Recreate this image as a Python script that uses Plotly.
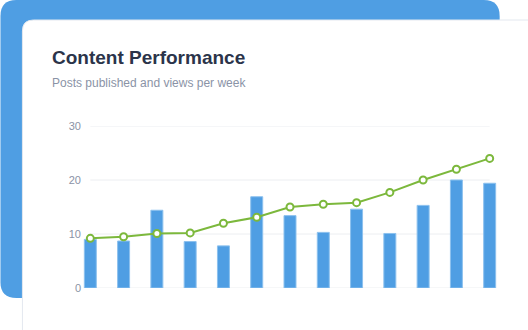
import plotly.graph_objects as go

weeks = ["W1", "W2", "W3", "W4", "W5", "W6", "W7", "W8", "W9", "W10", "W11", "W12", "W13"]
posts = [9.0, 8.7, 14.4, 8.6, 7.8, 16.9, 13.4, 10.3, 14.6, 10.1, 15.3, 20.0, 19.4]
views = [9.2, 9.5, 10.1, 10.2, 12.0, 13.1, 15.0, 15.5, 15.8, 17.7, 20.0, 22.0, 24.0]
y_ticks = [0, 10, 20, 30]

W, H = 528, 330
PAD = 0.25
UNIT = 400 / 12
L = 90 - PAD * UNIT
R = W - (490 + PAD * UNIT)
T, B = 126, 42
PW, PH = W - L - R, H - T - B


def px(x):
    return (x - L) / PW


def py(y):
    return (H - B - y) / PH


def rrect(x0, y0, x1, y1, r):
    pts = [
        ("M", x0 + r, y0), ("L", x1 - r, y0), ("Q", x1, y0, x1, y0 + r),
        ("L", x1, y1 - r), ("Q", x1, y1, x1 - r, y1), ("L", x0 + r, y1),
        ("Q", x0, y1, x0, y1 - r), ("L", x0, y0 + r), ("Q", x0, y0, x0 + r, y0),
    ]
    s = ""
    for p in pts:
        cmd = p[0]
        coords = p[1:]
        parts = []
        for i in range(0, len(coords), 2):
            parts.append(f"{px(coords[i]):.5f},{py(coords[i+1]):.5f}")
        s += cmd + " " + " ".join(parts) + " "
    return s + "Z"


fig = go.Figure()
fig.add_trace(go.Bar(
    x=list(range(len(weeks))), y=posts, name="Posts",
    marker=dict(color="#4f9ee3", line=dict(color="#8cc1ee", width=1)),
    width=0.36, hoverinfo="skip",
))
fig.add_trace(go.Scatter(
    x=list(range(len(weeks))), y=views, name="Views", mode="lines+markers",
    line=dict(color="#7cb83c", width=2),
    marker=dict(size=7, color="white", line=dict(color="#7cb83c", width=2)),
    cliponaxis=False, hoverinfo="skip",
))

shapes = [
    dict(type="path", xref="paper", yref="paper", path=rrect(0, 0, 500, 298, 16),
         fillcolor="#4f9ee3", line=dict(width=0), layer="below"),
    dict(type="path", xref="paper", yref="paper", path=rrect(22, 20, 560, 360, 11),
         fillcolor="#ffffff", line=dict(color="#e3e8ef", width=1), layer="below"),
]
for v in y_ticks:
    shapes.append(dict(type="line", xref="x", yref="y", x0=0, x1=len(weeks) - 1,
                       y0=v, y1=v, line=dict(color="#eceef1", width=1), layer="below"))

fig.update_layout(
    width=W, height=H,
    margin=dict(l=L, r=R, t=T, b=B),
    paper_bgcolor="white", plot_bgcolor="rgba(0,0,0,0)",
    showlegend=False,
    shapes=shapes,
    font=dict(family="Liberation Sans, Arial, sans-serif"),
    xaxis=dict(range=[-PAD, len(weeks) - 1 + PAD], showticklabels=False, showgrid=False,
               zeroline=False, showline=False, ticks="", fixedrange=True),
    yaxis=dict(range=[0, 30], tickvals=y_ticks, showgrid=False, zeroline=False,
               showline=False, ticks="", ticklabelstandoff=0,
               tickfont=dict(size=11, color="#8a93a6"), fixedrange=True),
    annotations=[
        dict(text="<b>Content Performance</b>", xref="paper", yref="paper",
             x=px(50), y=py(57), xanchor="left", yanchor="middle", showarrow=False,
             font=dict(size=19, color="#2b344a")),
        dict(text="Posts published and views per week", xref="paper", yref="paper",
             x=px(50), y=py(83), xanchor="left", yanchor="middle", showarrow=False,
             font=dict(size=12, color="#8a93a6")),
    ],
)

fig.write_html("out.html", config={"displayModeBar": False})
